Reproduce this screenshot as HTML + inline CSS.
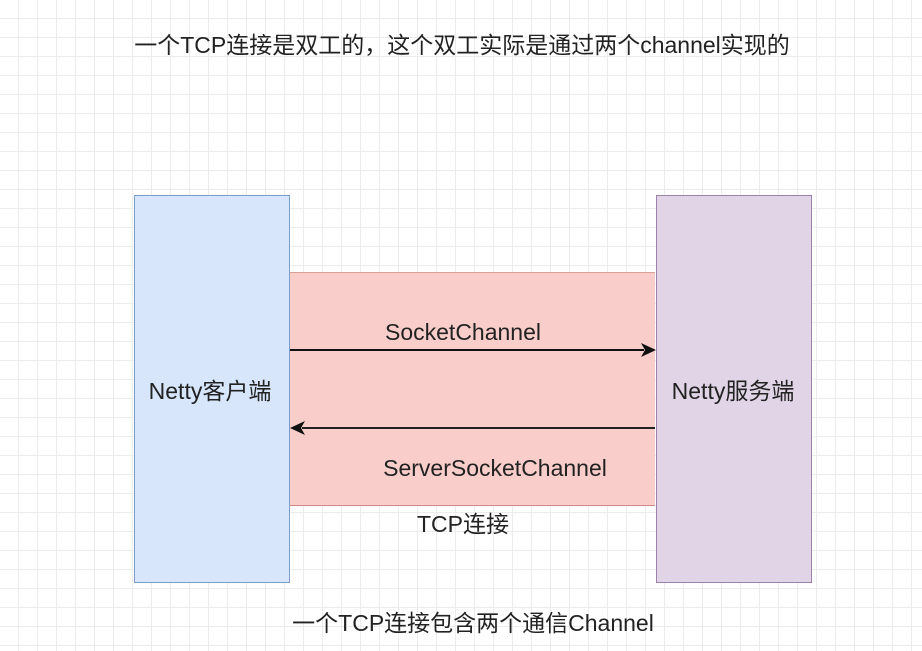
<!DOCTYPE html>
<html><head><meta charset="utf-8"><style>
body{margin:0;width:922px;height:651px;overflow:hidden;background:#fff;
background-image:linear-gradient(#ececec 1px,transparent 1px),linear-gradient(90deg,#ececec 1px,transparent 1px);
background-size:19px 19px;background-position:-1px -1px;
font-family:"Liberation Sans","Noto Sans CJK SC",sans-serif;color:#222}
.a{position:absolute}
.t{position:absolute;font-size:23px;line-height:26px;white-space:nowrap;transform:translateX(-50%)}
</style></head><body>
<div class="t" style="left:462px;top:32px">一个TCP连接是双工的，这个双工实际是通过两个channel实现的</div>
<div class="a" style="left:289px;top:272px;width:366px;height:232px;background:#f9ceca;border-top:1px solid #d9a09a;border-bottom:1px solid #d08880"></div>
<div class="a" style="left:134px;top:195px;width:154px;height:386px;background:#d7e6fb;border:1px solid #7c9cc9"></div>
<div class="a" style="left:656px;top:195px;width:154px;height:386px;background:#e0d4e6;border:1px solid #9e82ae"></div>
<div class="t" style="left:210px;top:378px">Netty客户端</div>
<div class="t" style="left:733px;top:378px">Netty服务端</div>
<div class="t" style="left:463px;top:319px">SocketChannel</div>
<div class="t" style="left:495px;top:455px">ServerSocketChannel</div>
<div class="t" style="left:463px;top:511px">TCP连接</div>
<div class="t" style="left:473px;top:610px">一个TCP连接包含两个通信Channel</div>
<svg class="a" style="left:0;top:0" width="922" height="651">
<line x1="290" y1="350" x2="644" y2="350" stroke="#111" stroke-width="2"/>
<polygon points="656,350 641,343 645,350 641,357" fill="#111"/>
<line x1="302" y1="428" x2="655" y2="428" stroke="#222" stroke-width="2"/>
<polygon points="290,428 305,421 301,428 305,435" fill="#111"/>
</svg>
</body></html>
